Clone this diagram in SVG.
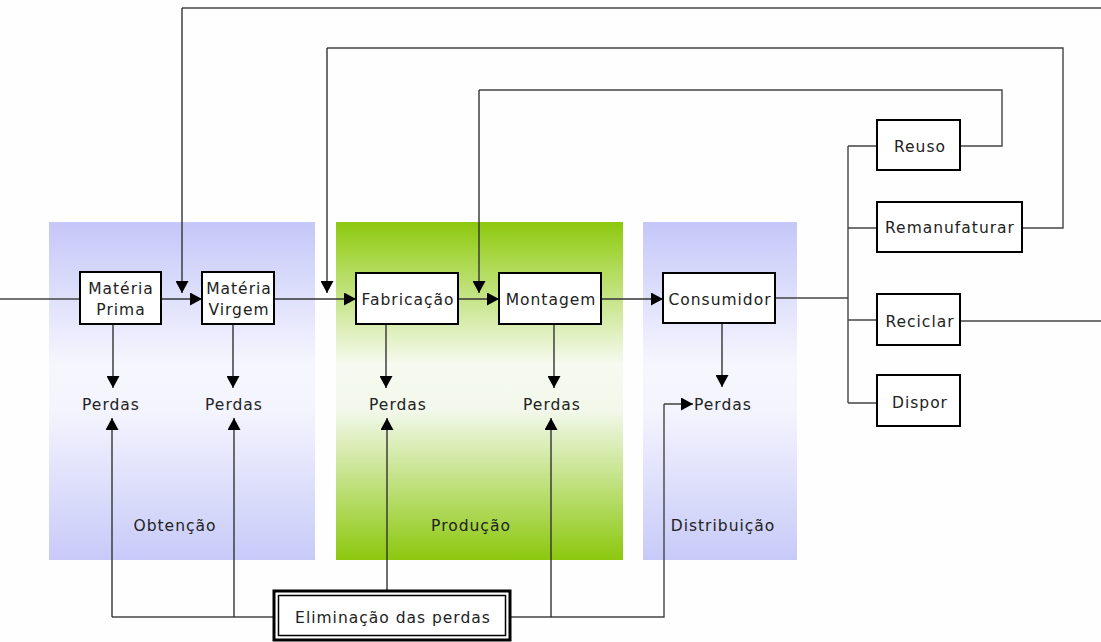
<svg xmlns="http://www.w3.org/2000/svg" width="1101" height="642" viewBox="0 0 1101 642">
<defs>
<linearGradient id="gBlue" x1="0" y1="0" x2="0" y2="1">
<stop offset="0" stop-color="#c4c7f8"/>
<stop offset="0.42" stop-color="#f6f6fe"/>
<stop offset="0.56" stop-color="#f4f4fe"/>
<stop offset="1" stop-color="#c7caf8"/>
</linearGradient>
<linearGradient id="gGreen" x1="0" y1="0" x2="0" y2="1">
<stop offset="0" stop-color="#8cc80e"/>
<stop offset="0.08" stop-color="#a2d438"/>
<stop offset="0.42" stop-color="#f6faf0"/>
<stop offset="0.56" stop-color="#f2f8ea"/>
<stop offset="1" stop-color="#8cc80e"/>
</linearGradient>
<marker id="ah" markerUnits="userSpaceOnUse" markerWidth="13" markerHeight="13" refX="12" refY="6.5" orient="auto">
<path d="M0,0 L12,6.5 L0,13 z" fill="#000"/>
</marker>
</defs>
<style>
.t{font-family:"DejaVu Sans",Verdana,sans-serif;font-size:15.5px;letter-spacing:1px;fill:#222;text-anchor:middle}
.ts{font-family:"DejaVu Sans",Verdana,sans-serif;font-size:15.5px;letter-spacing:1px;fill:#222}
.box{fill:#fff;stroke:#000;stroke-width:2}
.ln{fill:none;stroke:#444;stroke-width:1.4}
.ar{fill:none;stroke:#333;stroke-width:1.4;marker-end:url(#ah)}
</style>
<rect width="1101" height="642" fill="#fefefe"/>
<g id="phases">
<g id="obtencao"><rect x="49" y="222" width="266" height="338" fill="url(#gBlue)"/><text class="t" x="175" y="531">Obtenção</text></g>
<g id="producao"><rect x="336" y="222" width="287" height="338" fill="url(#gGreen)"/><text class="t" x="471" y="531">Produção</text></g>
<g id="distribuicao"><rect x="643" y="222" width="154" height="338" fill="url(#gBlue)"/><text class="t" x="723" y="531">Distribuição</text></g>
</g>
<g id="connectors">
<path class="ln" d="M0,299 H80"/>
<path class="ar" d="M161,299 H202"/>
<path class="ar" d="M274,299 H356"/>
<path class="ar" d="M458,299 H499"/>
<path class="ar" d="M601,299 H663"/>
<path class="ln" d="M775,298 H848"/>
<path class="ln" d="M848,146 V403 M848,146 H877 M848,228 H877 M848,320 H877 M848,403 H877"/>
<path class="ln" d="M960,146 H1002 V90 H479"/>
<path class="ar" d="M479,90 V293"/>
<path class="ln" d="M1022,228 H1063 V48 H327"/>
<path class="ar" d="M327,48 V293"/>
<path class="ln" d="M960,321 H1101"/>
<path class="ln" d="M1101,8 H182"/>
<path class="ar" d="M182,8 V293"/>
<path class="ar" d="M113,324 V388"/>
<path class="ar" d="M233,324 V388"/>
<path class="ar" d="M386,324 V388"/>
<path class="ar" d="M554,324 V388"/>
<path class="ar" d="M722,323 V387"/>
<path class="ln" d="M273,617 H112"/>
<path class="ar" d="M112,617 V418"/>
<path class="ar" d="M234,617 V418"/>
<path class="ar" d="M387,590 V418"/>
<path class="ln" d="M510,617 H664 V404"/>
<path class="ar" d="M551,617 V418"/>
<path class="ar" d="M664,404 H693"/>
</g>
<g id="perdas">
<text class="t" x="111" y="410">Perdas</text>
<text class="t" x="234" y="410">Perdas</text>
<text class="t" x="398" y="410">Perdas</text>
<text class="t" x="552" y="410">Perdas</text>
<text class="ts" x="694" y="410">Perdas</text>
</g>
<g id="materia-prima"><rect class="box" x="80" y="272" width="81" height="52"/><text class="t" x="121" y="294">Matéria</text><text class="t" x="121" y="315">Prima</text></g>
<g id="materia-virgem"><rect class="box" x="202" y="272" width="72" height="52"/><text class="t" x="239" y="294">Matéria</text><text class="t" x="239" y="315">Virgem</text></g>
<g id="fabricacao"><rect class="box" x="356" y="273" width="102" height="51"/><text class="t" x="408" y="305">Fabricação</text></g>
<g id="montagem"><rect class="box" x="499" y="273" width="102" height="51"/><text class="t" x="551" y="305">Montagem</text></g>
<g id="consumidor"><rect class="box" x="663" y="273" width="112" height="50"/><text class="t" x="720" y="305">Consumidor</text></g>
<g id="reuso"><rect class="box" x="877" y="120" width="83" height="50"/><text class="t" x="920" y="152">Reuso</text></g>
<g id="remanufaturar"><rect class="box" x="877" y="202" width="145" height="50"/><text class="t" x="950" y="233">Remanufaturar</text></g>
<g id="reciclar"><rect class="box" x="877" y="294" width="83" height="51"/><text class="t" x="920" y="327">Reciclar</text></g>
<g id="dispor"><rect class="box" x="877" y="375" width="83" height="51"/><text class="t" x="920" y="408">Dispor</text></g>
<g id="eliminacao">
<rect x="274" y="591" width="236" height="49" fill="#fff" stroke="#000" stroke-width="3"/>
<rect x="278.5" y="595.5" width="227" height="40" fill="#fff" stroke="#000" stroke-width="1.5"/>
<text class="t" x="393" y="623">Eliminação das perdas</text>
</g>
</svg>
